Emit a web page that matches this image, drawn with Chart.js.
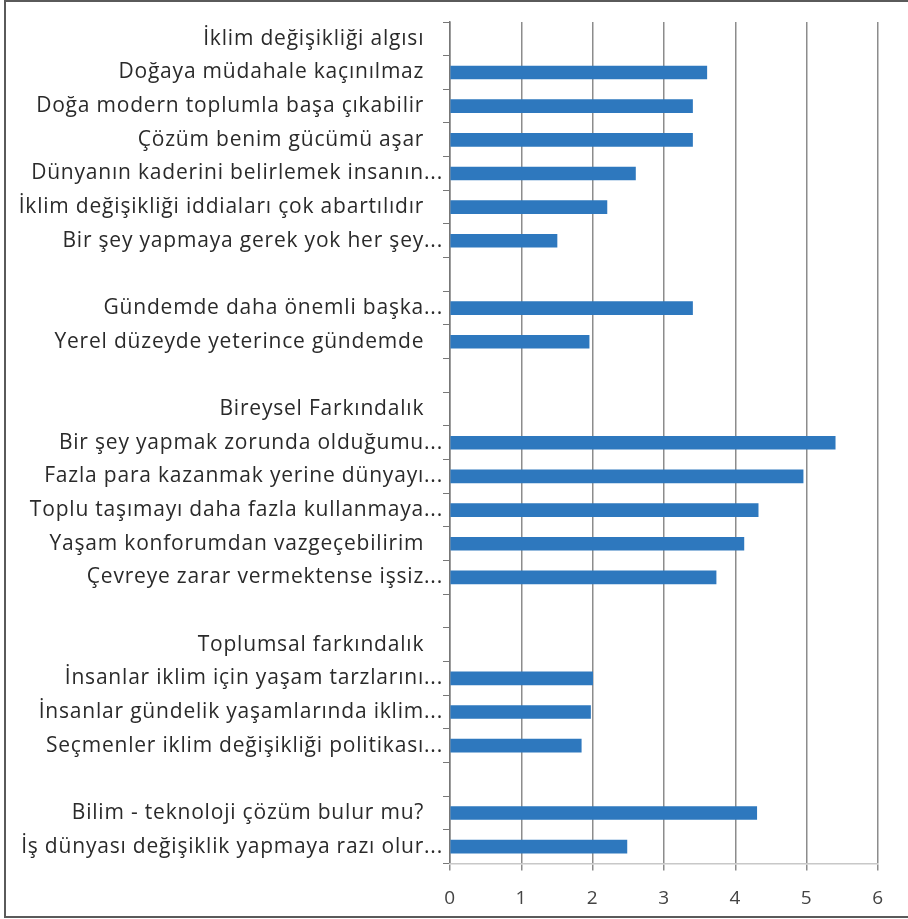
<!DOCTYPE html>
<html>
<head>
<meta charset="utf-8">
<script src="https://cdn.jsdelivr.net/npm/chart.js@4/dist/chart.umd.min.js"></script>
<style>
  html, body { margin: 0; padding: 0; background: #fff; }
  #wrap { position: relative; width: 908px; height: 919px; }
  #frame {
    position: absolute; left: 4px; top: 0; width: 912px; height: 918px;
    border: 2px solid #5a5a5a; box-sizing: border-box; pointer-events: none;
  }
  canvas { position: absolute; left: 0; top: 0; }
</style>
</head>
<body>
<div id="wrap">
  <canvas id="barChart" width="908" height="919"></canvas>
  <div id="frame"></div>
</div>
<script>
// labels top -> bottom; group titles and gaps have no value
const pad = '\u00a0\u00a0\u00a0';
const categories = [
  'İklim değişikliği algısı' + pad,
  'Doğaya müdahale kaçınılmaz' + pad,
  'Doğa modern toplumla başa çıkabilir' + pad,
  'Çözüm benim gücümü aşar' + pad,
  'Dünyanın kaderini belirlemek insanın...',
  'İklim değişikliği iddiaları çok abartılıdır' + pad,
  'Bir şey yapmaya gerek yok her şey...',
  '',
  'Gündemde daha önemli başka...',
  'Yerel düzeyde yeterince gündemde' + pad,
  '',
  'Bireysel Farkındalık' + pad,
  'Bir şey yapmak zorunda olduğumu...',
  'Fazla para kazanmak yerine dünyayı...',
  'Toplu taşımayı daha fazla kullanmaya...',
  'Yaşam konforumdan vazgeçebilirim' + pad,
  'Çevreye zarar vermektense işsiz...',
  '',
  'Toplumsal farkındalık' + pad,
  'İnsanlar iklim için yaşam tarzlarını...',
  'İnsanlar gündelik yaşamlarında iklim...',
  'Seçmenler iklim değişikliği politikası...',
  '',
  'Bilim - teknoloji çözüm bulur mu?' + pad,
  'İş dünyası değişiklik yapmaya razı olur...'
];

const values = [
  null, 3.6, 3.4, 3.4, 2.6, 2.2, 1.5,
  null, 3.4, 1.95,
  null, null, 5.4, 4.95, 4.32, 4.12, 3.73,
  null, null, 2.0, 1.97, 1.84,
  null, 4.3, 2.48
];

const xTicks = [0, 1, 2, 3, 4, 5, 6];

const barColor = '#2e78be';
const gridColor = '#8c8c8c';

// the source text is set a little wider than Open Sans
const spacing = {
  id: 'spacing',
  beforeDraw(chart) { chart.ctx.letterSpacing = '0.8px'; }
};

new Chart(document.getElementById('barChart'), {
  type: 'bar',
  data: {
    labels: categories,
    datasets: [{
      data: values,
      backgroundColor: barColor,
      borderWidth: 0,
      barThickness: 13
    }]
  },
  options: {
    indexAxis: 'y',
    responsive: false,
    animation: false,
    layout: { padding: { top: 22, right: 30, bottom: 0, left: 8 } },
    scales: {
      y: {
        grid: {
          drawOnChartArea: false,
          drawTicks: true,
          tickLength: 7,
          tickWidth: 1,
          tickColor: '#777',
          offset: true
        },
        border: { display: true, color: '#777', width: 1.5 },
        ticks: {
          autoSkip: false,
          padding: 0,
          color: '#2a2a2a',
          font: { family: 'Open Sans', size: 21 }
        },
        afterFit: s => { s.width = 442; }
      },
      x: {
        min: 0,
        max: 6,
        afterBuildTicks: s => { s.ticks = xTicks.map(v => ({ value: v })); },
        grid: {
          color: gridColor,
          lineWidth: 1.5,
          drawTicks: true,
          tickLength: 7,
          tickColor: gridColor
        },
        border: { display: true, color: '#c8c8c8', width: 1.5 },
        ticks: {
          padding: 17,
          color: '#444',
          font: { family: 'Open Sans', size: 19 }
        },
        afterFit: s => { s.height = 55.5; }
      }
    },
    plugins: {
      legend: { display: false },
      tooltip: { enabled: false }
    }
  },
  plugins: [spacing]
});
</script>
</body>
</html>
